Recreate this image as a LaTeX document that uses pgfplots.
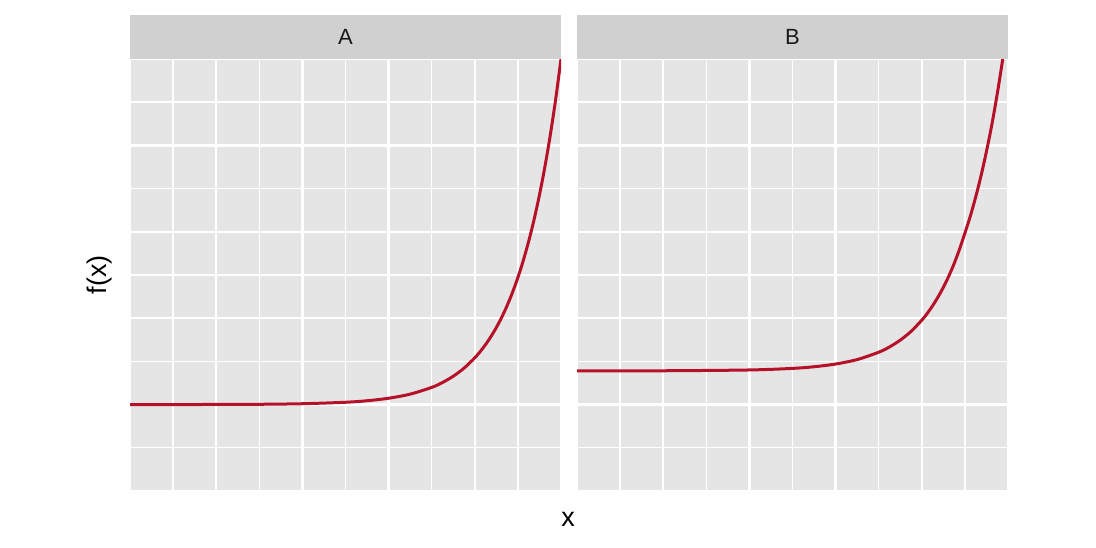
\documentclass[border=0pt]{standalone}
\usepackage{pgfplots}
\pgfplotsset{compat=1.18}
\usepackage{fontspec}
\setmainfont{Liberation Sans}
\definecolor{panelgray}{HTML}{E5E5E5}
\definecolor{stripgray}{HTML}{D0D0D0}
\definecolor{curvered}{RGB}{181,18,42}
\definecolor{txt}{HTML}{1A1A1A}
\pgfplotsset{
  facet/.style={
    scale only axis, width=431pt, height=432pt,
    xmin=0, xmax=10, ymin=0, ymax=10,
    xtick={2,4,6,8}, ytick={2,4,6,8},
    minor xtick={0,1,3,5,7,9,10}, minor ytick={0,1,3,5,7,9,10},
    xticklabels={}, yticklabels={},
    major tick length=0pt, minor tick length=0pt,
    grid=both,
    major grid style={white, line width=2.4pt},
    minor grid style={white, line width=1.4pt},
    axis line style={draw=none},
    axis background/.style={fill=panelgray},
    anchor=south west,
  }
}
\begin{document}
\begin{tikzpicture}[x=1pt,y=1pt]
\useasboundingbox (0,0) rectangle (1096,548);
\begin{axis}[facet, at={(130pt,57pt)}]
\addplot[curvered, line width=3pt, smooth] coordinates {
(0,2.0004) (1,2.001) (2,2.003) (3,2.007) (4,2.020) (5,2.054) (5.5,2.089)
(6,2.147) (6.5,2.242) (7,2.398) (7.25,2.511) (7.5,2.657) (7.75,2.843)
(8,3.083) (8.125,3.227) (8.25,3.390) (8.375,3.575) (8.5,3.785) (8.625,4.022)
(8.75,4.292) (8.875,4.598) (9,4.943) (9.125,5.335) (9.25,5.779) (9.375,6.282)
(9.5,6.852) (9.625,7.498) (9.75,8.230) (9.875,9.060) (10,10.0)
};
\end{axis}
\begin{axis}[facet, at={(577pt,57pt)}]
\addplot[curvered, line width=3pt, smooth] coordinates {
(0,2.7804) (2,2.783) (4,2.8015) (5,2.838) (5.5,2.876) (6,2.939) (6.5,3.042)
(7,3.212) (7.25,3.334) (7.5,3.492) (7.75,3.694) (8,3.954) (8.125,4.110)
(8.25,4.287) (8.375,4.488) (8.5,4.715) (8.625,4.972) (8.75,5.264) (8.875,5.595)
(9,5.970) (9.125,6.360) (9.25,6.805) (9.375,7.300) (9.5,7.860) (9.625,8.480)
(9.75,9.190) (9.88,10.01)
};
\end{axis}
\fill[stripgray] (130,489) rectangle (561,533);
\fill[stripgray] (577,489) rectangle (1008,533);
\node[txt, font=\fontsize{22}{26}\selectfont] at (345.5,511) {A};
\node[txt, font=\fontsize{22}{26}\selectfont] at (792.5,511) {B};
\node[black, font=\fontsize{27}{32}\selectfont, rotate=90] at (100,273) {f(x)};
\node[black, font=\fontsize{27}{32}\selectfont] at (568,29) {x};
\end{tikzpicture}
\end{document}
